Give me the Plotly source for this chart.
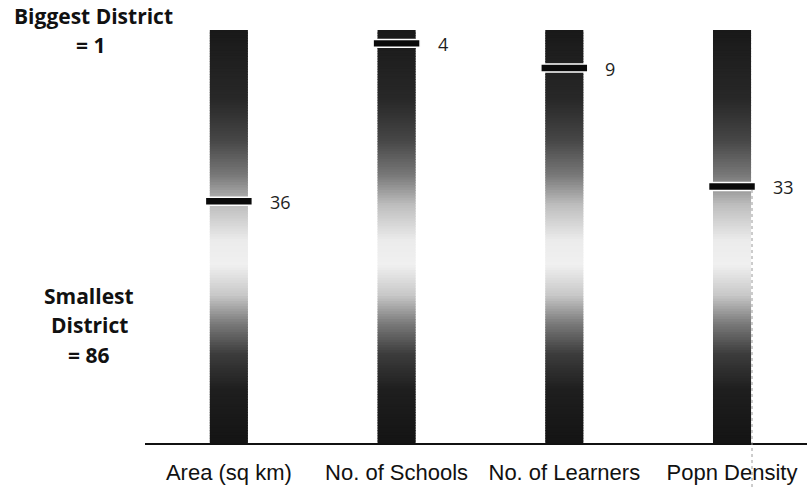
import plotly.graph_objects as go

# ---------------- data ----------------
categories = ["Area (sq km)", "No. of Schools", "No. of Learners", "Popn Density"]
ranks = [36, 4, 9, 33]
rank_labels = ["36", "4", "9", "33"]
best_rank = 1
worst_rank = 86

# ---------------- style ----------------
W, H = 807, 494
ML, MR, MT, MB = 145, 0, 25, 51
Y_RANGE = [85.0, 0.28]          # reversed rank axis
BAR_TOP = 1.3
BAR_BOTTOM = 85.0
BAR_W = 0.227
MARK_W = 0.28
MARK_H = 1.6
X_RANGE = [-0.5, 3.447]
# gradient stops: (rank position, grey level)
GRAD = [(1.3, 25), (15.5, 40), (23.6, 70), (30.7, 120), (36.8, 190), (43.9, 235),
        (48.9, 240), (55.0, 200), (61.0, 120), (67.0, 60), (74.3, 30), (85.0, 20)]


def grey_at(r):
    for (r0, g0), (r1, g1) in zip(GRAD[:-1], GRAD[1:]):
        if r0 <= r <= r1:
            t = (r - r0) / (r1 - r0)
            return g0 + t * (g1 - g0)
    return GRAD[-1][1]


N = 160
step = (BAR_BOTTOM - BAR_TOP) / N
gx, gbase, gh, gcol = [], [], [], []
for cat in categories:
    for i in range(N):
        r0 = BAR_TOP + i * step
        h = step * 1.4 if i < N - 1 else step
        g = int(round(grey_at(r0 + step / 2)))
        gx.append(cat)
        gbase.append(r0)
        gh.append(h)
        gcol.append(f"rgb({g},{g},{g})")

fig = go.Figure()
fig.add_trace(go.Bar(
    x=gx, y=gh, base=gbase, width=BAR_W,
    marker=dict(color=gcol, line=dict(width=0)),
    hoverinfo="skip", showlegend=False,
))
fig.add_trace(go.Bar(
    x=categories, y=[MARK_H] * len(ranks), base=[r - MARK_H / 2 for r in ranks],
    width=MARK_W,
    marker=dict(color="#0a0a0a", line=dict(color="white", width=1.5)),
    showlegend=False, hovertext=rank_labels, hoverinfo="text",
))

annotations = []
for cat, r, lab in zip(categories, ranks, rank_labels):
    annotations.append(dict(
        x=cat, y=r, xref="x", yref="y", text=lab, showarrow=False,
        xanchor="left", yanchor="middle", xshift=39, yshift=-1,
        font=dict(family="Open Sans, sans-serif", size=18, color="#1e1e1e"),
    ))

PW = W - ML - MR
PH = H - MT - MB


def px(xp):
    return (xp - ML) / PW


def py(yp):
    return (H - MB - yp) / PH


left_font = dict(family="Open Sans, sans-serif", size=21, color="#111111")
left_texts = [
    ("<b>Biggest District</b>", 93, 16),
    (f"<b>= {best_rank}</b>", 90, 45),
    ("<b>Smallest</b>", 89, 296),
    ("<b>District</b>", 89.5, 325),
    (f"<b>= {worst_rank}</b>", 88.5, 355),
]
for t, xx, yy in left_texts:
    annotations.append(dict(
        x=px(xx), y=py(yy), xref="paper", yref="paper", text=t, showarrow=False,
        xanchor="center", yanchor="middle", font=left_font,
    ))

fig.update_layout(
    width=W, height=H,
    margin=dict(l=ML, r=MR, t=MT, b=MB, pad=0),
    paper_bgcolor="white", plot_bgcolor="white",
    barmode="overlay",
    annotations=annotations,
    xaxis=dict(
        range=X_RANGE, showline=True, linecolor="#111111", linewidth=1.5,
        ticks="", showgrid=False, zeroline=False,
        tickfont=dict(family="Liberation Sans, Arial, sans-serif",
                      size=22, color="#111111"),
        ticklabelstandoff=9,
    ),
    yaxis=dict(range=Y_RANGE, visible=False, showgrid=False, zeroline=False),
    shapes=[dict(type="line", xref="paper", yref="paper",
                 x0=px(752), x1=px(752), y0=py(190), y1=py(488),
                 line=dict(color="#9a9a9a", width=1, dash="dot"))],
)

fig.write_html("out.html",
               config={"displayModeBar": False},
               post_script="document.body.style.margin='0';document.body.style.overflow='hidden';")
